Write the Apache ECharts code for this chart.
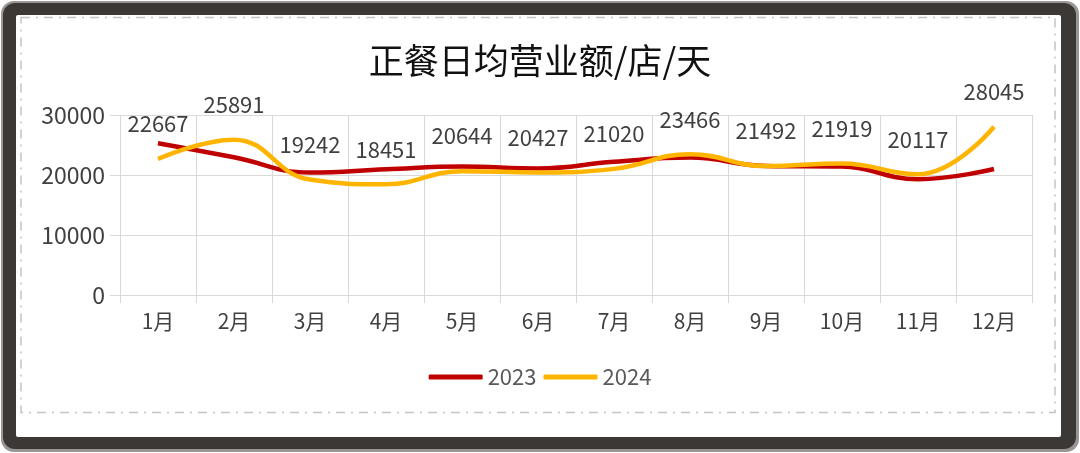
<!DOCTYPE html>
<html>
<head>
<meta charset="utf-8">
<script src="https://cdn.jsdelivr.net/npm/echarts@6/dist/echarts.min.js"></script>
<style>
html,body{margin:0;padding:0;background:#ffffff;}
#c{width:1080px;height:453px;}
</style>
</head>
<body>
<div id="c"></div>
<script>
const categories = ['1月','2月','3月','4月','5月','6月','7月','8月','9月','10月','11月','12月'];
const values2023 = [25300, 22950, 20400, 20950, 21400, 21100, 22200, 22900, 21500, 21400, 19300, 21000];
const values2024 = [22667, 25891, 19242, 18451, 20644, 20427, 21020, 23466, 21492, 21919, 20117, 28045];
const yTicks = { min: 0, max: 30000, interval: 10000 };

const FONT = '"Noto Sans CJK SC", "Noto Sans", sans-serif';
const chart = echarts.init(document.getElementById('c'));
chart.setOption({
  animation: false,
  textStyle: { fontFamily: FONT },
  graphic: [
    { type: 'rect', z: -4, shape: { x: 1, y: 1, width: 1078, height: 451, r: 13 }, style: { fill: '#9a9695' } },
    { type: 'rect', z: -3, shape: { x: 3, y: 3, width: 1073, height: 446, r: 12 }, style: { fill: '#3c3836' } },
    { type: 'rect', z: -2, shape: { x: 16, y: 15, width: 1045, height: 422, r: 2 }, style: { fill: '#ffffff' } },
    { type: 'rect', z: -1, shape: { x: 21, y: 17.5, width: 1034, height: 395 }, style: { fill: 'none', stroke: '#c4c4c4', lineWidth: 1.5, lineDash: [9, 6, 2, 6] } }
  ],
  title: {
    text: '正餐日均营业额/店/天',
    left: 'center',
    top: 38,
    textStyle: { fontSize: 35, fontWeight: 'normal', color: '#111111', fontFamily: FONT }
  },
  legend: {
    data: ['2023', '2024'],
    left: 'center',
    top: 361,
    icon: 'roundRect',
    itemWidth: 54,
    itemHeight: 5,
    itemGap: 7,
    textStyle: { fontSize: 22, color: '#595959', fontFamily: FONT }
  },
  grid: { left: 120, right: 48, top: 115, bottom: 158, containLabel: false },
  xAxis: {
    type: 'category',
    data: categories,
    boundaryGap: true,
    axisLine: { show: true, lineStyle: { color: '#d9d9d9', width: 1 } },
    axisTick: { show: true, length: 8, lineStyle: { color: '#d9d9d9' } },
    splitLine: { show: true, lineStyle: { color: '#d9d9d9', width: 1 } },
    axisLabel: { fontSize: 21, color: '#404040', margin: 16, fontFamily: FONT }
  },
  yAxis: {
    type: 'value',
    min: yTicks.min,
    max: yTicks.max,
    interval: yTicks.interval,
    axisLine: { show: false },
    axisTick: { show: true, length: 10, lineStyle: { color: '#d9d9d9' } },
    splitLine: { show: true, lineStyle: { color: '#d9d9d9', width: 1 } },
    axisLabel: { fontSize: 23, color: '#404040', margin: 15, fontFamily: FONT, formatter: function (v) { return String(v); } }
  },
  series: [
    {
      name: '2023',
      type: 'line',
      data: values2023,
      smooth: 0.45,
      symbol: 'none',
      lineStyle: { color: '#c00000', width: 4.5 },
      itemStyle: { color: '#c00000' },
      z: 2
    },
    {
      name: '2024',
      type: 'line',
      data: values2024,
      smooth: 0.45,
      symbol: 'circle',
      symbolSize: 0.1,
      showSymbol: true,
      lineStyle: { color: '#ffb400', width: 4.5 },
      itemStyle: { color: '#ffb400' },
      label: { show: true, position: 'top', distance: 24, fontSize: 22, color: '#404040', fontFamily: FONT },
      z: 3
    }
  ]
});
</script>
</body>
</html>
